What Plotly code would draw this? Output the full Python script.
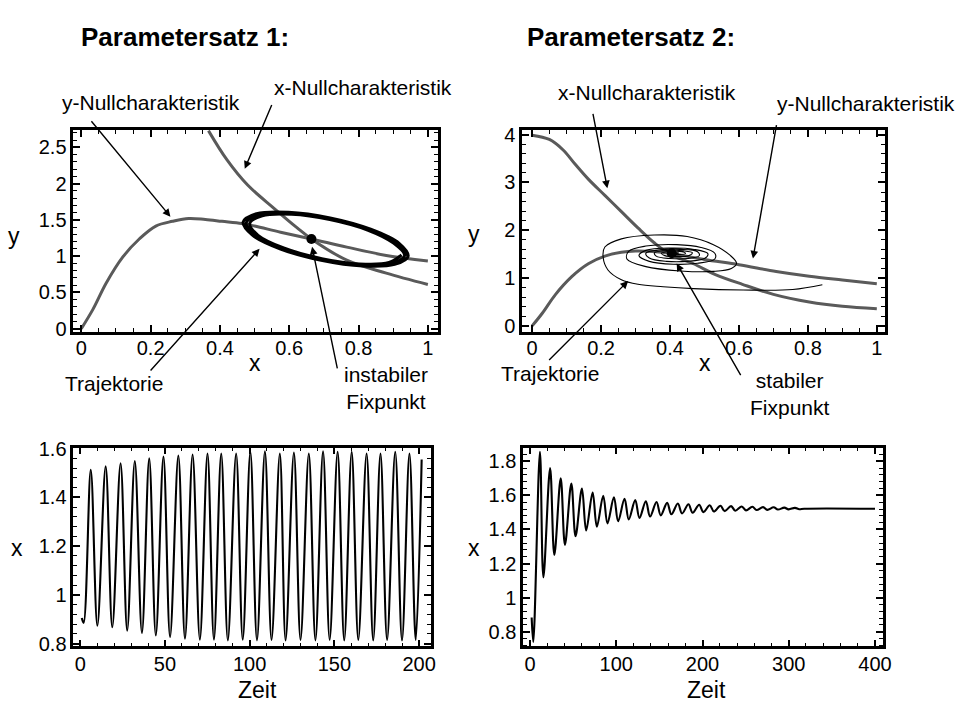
import plotly.graph_objects as go

# ---------------- data ----------------
# Parametersatz 1: phase plane
p1_ynull_x = [0.0, 0.034, 0.072, 0.12, 0.168, 0.215, 0.263, 0.31, 0.358, 0.406, 0.463, 0.50, 0.575, 0.664, 0.766, 0.88, 1.0]
p1_ynull_y = [0.0, 0.27, 0.63, 0.99, 1.24, 1.415, 1.48, 1.52, 1.505, 1.48, 1.45, 1.415, 1.33, 1.237, 1.125, 1.01, 0.935]
p1_xnull_x = [0.367, 0.42, 0.48, 0.556, 0.623, 0.664, 0.766, 0.88, 1.0]
p1_xnull_y = [2.73, 2.33, 1.98, 1.66, 1.39, 1.237, 0.945, 0.766, 0.61]
# trajectory winding outwards onto the limit cycle
p1_traj_x = [0.924, 0.888, 0.803, 0.694, 0.586, 0.510, 0.486, 0.522, 0.607, 0.717, 0.826, 0.901,
             0.933, 0.896, 0.808, 0.693, 0.580, 0.501, 0.476, 0.514, 0.602, 0.717, 0.830, 0.909,
             0.943, 0.904, 0.812, 0.692, 0.575, 0.493, 0.467, 0.506, 0.598, 0.718, 0.835, 0.917,
             0.943, 0.904, 0.812, 0.692, 0.575, 0.493, 0.467, 0.506, 0.598, 0.718, 0.835, 0.917, 0.943]
p1_traj_y = [1.018, 0.913, 0.893, 0.966, 1.109, 1.288, 1.450, 1.556, 1.576, 1.505, 1.360, 1.179,
             1.009, 0.899, 0.878, 0.955, 1.104, 1.290, 1.460, 1.570, 1.591, 1.516, 1.365, 1.178,
             1.000, 0.886, 0.864, 0.943, 1.099, 1.293, 1.470, 1.585, 1.606, 1.527, 1.371, 1.177,
             1.000, 0.886, 0.864, 0.943, 1.099, 1.293, 1.470, 1.585, 1.606, 1.527, 1.371, 1.177, 1.000]
p1_fix = (0.664, 1.237)

# Parametersatz 2: phase plane
p2_xnull_x = [0.0, 0.05, 0.09, 0.125, 0.163, 0.211, 0.259, 0.307, 0.354, 0.40, 0.468, 0.53, 0.61, 0.70, 0.804, 0.9, 1.0]
p2_xnull_y = [3.99, 3.9, 3.68, 3.38, 3.07, 2.73, 2.39, 2.05, 1.74, 1.50, 1.30, 1.08, 0.87, 0.66, 0.50, 0.41, 0.36]
p2_ynull_x = [0.0, 0.03, 0.067, 0.115, 0.163, 0.211, 0.259, 0.30, 0.35, 0.40, 0.50, 0.60, 0.708, 0.804, 0.9, 1.0]
p2_ynull_y = [0.0, 0.27, 0.65, 1.03, 1.30, 1.46, 1.54, 1.565, 1.555, 1.52, 1.39, 1.28, 1.14, 1.04, 0.96, 0.88]
# trajectory spiralling into the stable fixed point
p2_traj_x = [0.842, 0.756, 0.612, 0.468, 0.38, 0.307, 0.259, 0.22, 0.206, 0.211, 0.259, 0.354, 0.45, 0.526, 0.574,
             0.593, 0.578, 0.526,
             0.43, 0.33, 0.275, 0.28, 0.33, 0.42, 0.49, 0.53, 0.53, 0.48,
             0.41, 0.34, 0.31, 0.33, 0.40, 0.47, 0.51, 0.50, 0.45,
             0.39, 0.34, 0.33, 0.37, 0.43, 0.48, 0.485, 0.45,
             0.40, 0.36, 0.355, 0.39, 0.44, 0.465, 0.455, 0.42,
             0.385, 0.375, 0.40, 0.435, 0.445, 0.425, 0.40, 0.395, 0.41, 0.425, 0.415, 0.405]
p2_traj_y = [0.86, 0.76, 0.75, 0.78, 0.82, 0.87, 0.965, 1.17, 1.44, 1.65, 1.82, 1.90, 1.87, 1.70, 1.48,
             1.31, 1.20, 1.14,
             1.15, 1.24, 1.40, 1.56, 1.67, 1.70, 1.64, 1.52, 1.40, 1.31,
             1.29, 1.35, 1.47, 1.58, 1.63, 1.60, 1.51, 1.41, 1.35,
             1.35, 1.42, 1.52, 1.59, 1.60, 1.55, 1.47, 1.41,
             1.41, 1.46, 1.53, 1.575, 1.57, 1.53, 1.47, 1.45,
             1.47, 1.52, 1.555, 1.55, 1.515, 1.49, 1.495, 1.52, 1.535, 1.525, 1.51, 1.52]
p2_fix = (0.405, 1.52)

# Parametersatz 1: x over time (extrema of the oscillation)
p1_time = [0.9, 2.0, 6.2, 10.1, 15.0, 18.9, 23.8, 27.7, 32.2, 36.4, 40.7, 44.6, 49.1, 53.0, 57.9, 61.8,
           66.3, 70.6, 75.1, 78.9, 83.2, 87.1, 92.0, 95.9, 100.4, 104.3, 109.0, 112.9, 117.8, 121.2,
           126.1, 130.0, 134.9, 138.8, 143.3, 147.2, 151.9, 155.8, 160.2, 164.1, 169.0, 172.9, 177.2,
           181.1, 185.9, 189.9, 194.3, 198.0, 201.5]
p1_xval = [0.905, 0.885, 1.513, 0.873, 1.527, 0.867, 1.540, 0.853, 1.549, 0.843, 1.560, 0.833, 1.567, 0.827,
           1.571, 0.820, 1.576, 0.816, 1.580, 0.816, 1.580, 0.813, 1.580, 0.816, 1.587, 0.813, 1.589, 0.815,
           1.580, 0.813, 1.584, 0.815, 1.580, 0.813, 1.589, 0.815, 1.587, 0.813, 1.587, 0.815, 1.580, 0.813,
           1.580, 0.815, 1.587, 0.813, 1.580, 0.815, 1.555]

# Parametersatz 2: x over time (extrema of the damped oscillation)
p2_time = [1.9, 3.8, 11.5, 15.5, 23.3, 28.2, 35.6, 40.5, 47.9, 52.8, 60.2, 65.1, 72.6, 77.5, 84.9, 89.8,
           97.3, 102.2, 109.6, 114.5, 122.0, 126.9, 134.3, 139.2, 146.7, 151.6, 159.0, 163.9, 171.4, 176.3,
           183.7, 188.6, 196.1, 201.0, 208.4, 213.3, 220.8, 225.7, 233.1, 238.0, 245.5, 250.4, 257.8, 262.7,
           270.2, 275.1, 282.5, 287.4, 294.9, 299.8, 307.2, 312.1, 318.0, 400.0]
p2_xval = [0.884, 0.741, 1.855, 1.12, 1.76, 1.25, 1.70, 1.31, 1.67, 1.36, 1.64, 1.394, 1.617, 1.417, 1.598, 1.436,
           1.588, 1.448, 1.580, 1.459, 1.572, 1.468, 1.566, 1.476, 1.561, 1.483, 1.556, 1.489, 1.552, 1.494,
           1.548, 1.498, 1.545, 1.502, 1.542, 1.505, 1.539, 1.508, 1.537, 1.510, 1.535, 1.512, 1.533, 1.514,
           1.531, 1.515, 1.530, 1.517, 1.528, 1.518, 1.527, 1.519, 1.522, 1.522]

# ---------------- figure ----------------
W, H = 973, 711
FONT = "Liberation Sans, Arial, Helvetica, sans-serif"
NULL_COLOR = "#5a5a5a"


def fx(p):
    return p / W


def fy(p):
    return 1 - p / H


fig = go.Figure()

# phase plane 1
for xs, ys in ((p1_ynull_x, p1_ynull_y), (p1_xnull_x, p1_xnull_y)):
    fig.add_trace(go.Scatter(x=xs, y=ys, mode="lines",
                             line=dict(color=NULL_COLOR, width=3, shape="spline"), xaxis="x", yaxis="y"))
fig.add_trace(go.Scatter(x=p1_traj_x, y=p1_traj_y, mode="lines",
                         line=dict(color="black", width=3, shape="spline"), xaxis="x", yaxis="y"))
fig.add_trace(go.Scatter(x=[p1_fix[0]], y=[p1_fix[1]], mode="markers",
                         marker=dict(color="black", size=10), xaxis="x", yaxis="y"))

# phase plane 2
for xs, ys in ((p2_xnull_x, p2_xnull_y), (p2_ynull_x, p2_ynull_y)):
    fig.add_trace(go.Scatter(x=xs, y=ys, mode="lines",
                             line=dict(color=NULL_COLOR, width=3, shape="spline"), xaxis="x2", yaxis="y2"))
fig.add_trace(go.Scatter(x=p2_traj_x, y=p2_traj_y, mode="lines",
                         line=dict(color="black", width=1.1, shape="spline"), xaxis="x2", yaxis="y2"))
fig.add_trace(go.Scatter(x=[p2_fix[0]], y=[p2_fix[1]], mode="markers",
                         marker=dict(color="black", size=10), xaxis="x2", yaxis="y2"))

# time series
fig.add_trace(go.Scatter(x=p1_time, y=p1_xval, mode="lines",
                         line=dict(color="black", width=2.1, shape="spline"), xaxis="x3", yaxis="y3"))
fig.add_trace(go.Scatter(x=p2_time, y=p2_xval, mode="lines",
                         line=dict(color="black", width=2.1, shape="spline"), xaxis="x4", yaxis="y4"))

axis_common = dict(
    showline=True, linewidth=2.5, linecolor="black", mirror="allticks",
    ticks="inside", ticklen=7, tickwidth=1.5, tickcolor="black",
    showgrid=False, zeroline=False, fixedrange=True,
    tickfont=dict(family=FONT, size=20, color="black"),
)


def ax(domain, rng, dtick, minor_dtick, anchor, standoff=0):
    d = dict(axis_common)
    d.update(domain=domain, range=rng, dtick=dtick, tick0=0, anchor=anchor, ticklabelstandoff=standoff,
             minor=dict(ticks="inside", ticklen=4, tickwidth=1, tickcolor="black", dtick=minor_dtick, tick0=0,
                        showgrid=False))
    return d


top_y = [fy(330), fy(123)]
bot_y = [fy(653), fy(449)]

fig.update_layout(
    width=W, height=H, margin=dict(l=0, r=0, t=0, b=0),
    paper_bgcolor="white", plot_bgcolor="white", showlegend=False,
    font=dict(family=FONT, color="black"),
    xaxis=ax([fx(74), fx(442)], [-0.023, 1.029], 0.2, 0.05, "y", -3),
    yaxis=ax(top_y, [-0.04, 2.74], 0.5, 0.1, "x"),
    xaxis2=ax([fx(527), fx(893)], [-0.029, 1.023], 0.2, 0.05, "y2", -3),
    yaxis2=ax(top_y, [-0.12, 4.10], 1, 0.2, "x2"),
    xaxis3=ax([fx(74), fx(435)], [-4.1, 207], 50, 10, "y3", -2),
    yaxis3=ax(bot_y, [0.788, 1.604], 0.2, 0.04, "x3"),
    xaxis4=ax([fx(528), fx(891)], [-8, 409], 100, 20, "y4", -2),
    yaxis4=ax(bot_y, [0.714, 1.88], 0.2, 0.04, "x4"),
)

annotations = []


def text(t, cx, cy, size=21, bold=False):
    annotations.append(dict(
        text=f"<b>{t}</b>" if bold else t, x=fx(cx), y=fy(cy), xref="paper", yref="paper",
        showarrow=False, xanchor="center", yanchor="middle",
        font=dict(family=FONT, size=size, color="black")))


def arrow(tail, tip):
    annotations.append(dict(
        text=" ", x=fx(tip[0]), y=fy(tip[1]), xref="paper", yref="paper",
        ax=tail[0] - tip[0], ay=tail[1] - tip[1], showarrow=True,
        arrowhead=2, arrowsize=1.1, arrowwidth=1.4, arrowcolor="black", standoff=0))


# headings
text("Parametersatz 1:", 187, 28, size=26, bold=True)
text("Parametersatz 2:", 637, 28, size=26, bold=True)

# axis titles
text("y", 14, 232, size=23)
text("x", 257, 362, size=23)
text("y", 478, 230, size=23)
text("x", 712, 362, size=23)
text("x", 17, 552, size=23)
text("Zeit", 260, 698, size=23)
text("x", 478, 552, size=23)
text("Zeit", 713, 698, size=23)

# labels with pointers, Parametersatz 1
text("y-Nullcharakteristik", 152, 95)
arrow((90, 113), (172, 212))
text("x-Nullcharakteristik", 366, 80)
arrow((277, 92), (247, 163))
text("Trajektorie", 115, 383)
arrow((150, 370), (262, 245))
text("instabiler<br>Fixpunkt", 390, 388)
arrow((342, 373), (315, 243))

# labels with pointers, Parametersatz 2
text("x-Nullcharakteristik", 653, 85)
arrow((597, 100), (613, 183))
text("y-Nullcharakteristik", 874, 96)
arrow((785, 113), (760, 255))
text("Trajektorie", 555, 373)
arrow((552, 360), (634, 278))
text("stabiler<br>Fixpunkt", 797, 394)
arrow((750, 377), (683, 260))

fig.update_layout(annotations=annotations)

fig.write_html("out.html")
